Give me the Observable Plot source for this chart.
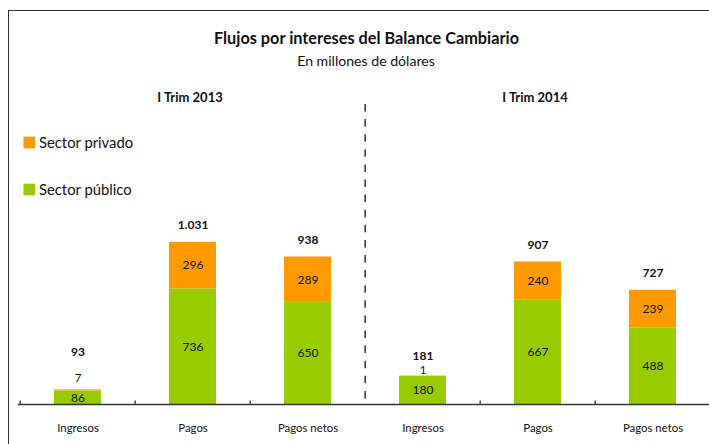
<!DOCTYPE html>
<html>
<head>
<meta charset="utf-8">
<script src="https://cdn.jsdelivr.net/npm/d3@7"></script>
<script src="https://cdn.jsdelivr.net/npm/@observablehq/plot@0.6"></script>
<style>
  html, body { margin: 0; padding: 0; background: #fff; }
  #wrap { position: relative; width: 709px; height: 444px; overflow: hidden; }
  #border { position: absolute; left: 8px; top: 10px; width: 710px; height: 440px;
    border-left: 1.6px solid #333; border-top: 1.6px solid #333; box-sizing: border-box; pointer-events: none; }
  svg { display: block; }
</style>
</head>
<body>
<div id="wrap"><div id="border"></div></div>
<script>
const title = "Flujos por intereses del Balance Cambiario";
const subtitle = "En millones de dólares";
const periods = ["I Trim 2013", "I Trim 2014"];
const concepts = ["Ingresos", "Pagos", "Pagos netos"];
const sectors = ["Sector público", "Sector privado"];
const publico = [86, 736, 650, 180, 667, 488];
const privado = [7, 296, 289, 1, 240, 239];
const totals = [93, 1031, 938, 181, 907, 727];
const colors = ["#99CC00", "#FF9900"];

const keys = periods.flatMap(p => concepts.map(c => p + "|" + c));
const rows = keys.flatMap((k, i) => [
  {key: k, sector: sectors[0], value: publico[i]},
  {key: k, sector: sectors[1], value: privado[i]}
]);
const totalRows = keys.map((k, i) => ({key: k, total: totals[i], priv: privado[i]}));

const fmt = d3.formatLocale({decimal: ",", thousands: ".", grouping: [3], currency: ["$", ""]}).format(",d");

const step = 115.7;
const half = step / 2;
const ink = "#111";

// label offsets (pixels) for bars whose private slice is too thin to hold its label
const smallOffsets = {[keys[0]]: {priv: -11.5, total: -37.5}, [keys[3]]: {priv: -6, total: -19.5}};
const isSmall = d => d.priv < 30;

const marks = [
  Plot.barY(rows, {x: "key", y: "value", fill: "sector"}),
  Plot.ruleY([0], {insetLeft: 18, stroke: "#333", strokeWidth: 1.4}),
  Plot.ruleX(keys.filter((k, i) => i !== 3), {x: d => d, dx: -half, insetTop: 400.5, stroke: "#333", strokeWidth: 1.3}),
  Plot.ruleX([keys[3]], {x: d => d, dx: -half, insetTop: 104, stroke: ink, strokeWidth: 1.3, strokeDasharray: "7.5,7.6"}),
  Plot.axisX({anchor: "bottom", tickSize: 0, tickPadding: 19.5, label: null, tickFormat: d => d.split("|")[1], fontSize: 11.4, fill: ink}),
  Plot.text(rows, Plot.stackY({x: "key", y: "value", z: "sector", text: d => fmt(d.value), filter: d => d.value >= 30, fontSize: 12, fill: ink})),
  Plot.text(totalRows.filter(d => !isSmall(d)), {x: "key", y: "total", text: d => fmt(d.total), dy: -17, fontSize: 12, fontWeight: "bold", fill: ink}),
  ...totalRows.filter(isSmall).flatMap(d => [
    Plot.text([d], {x: "key", y: "total", text: r => fmt(r.priv), dy: smallOffsets[d.key].priv, fontSize: 11.5, fill: ink}),
    Plot.text([d], {x: "key", y: "total", text: r => fmt(r.total), dy: smallOffsets[d.key].total, fontSize: 12, fontWeight: "bold", fill: ink})
  ]),
  Plot.text(periods, {x: (d, i) => keys[i * 3 + 1], frameAnchor: "top", lineAnchor: "middle", dy: 97, dx: -3, fontSize: 13, fontWeight: "bold", fill: ink}),
  Plot.text([title], {frameAnchor: "top-left", dx: 366, dy: 38, textAnchor: "middle", lineAnchor: "middle", fontSize: 16.3, fontWeight: "bold", fill: ink}),
  Plot.text([subtitle], {frameAnchor: "top-left", dx: 365.5, dy: 60.5, textAnchor: "middle", lineAnchor: "middle", fontSize: 14.1, fill: ink}),
  ...sectors.slice().reverse().flatMap((s, i) => [
    Plot.dot([s], {frameAnchor: "top-left", dx: 28.8, dy: 142 + i * 47, symbol: "square", r: 6.6, fill: d => d}),
    Plot.text([s], {frameAnchor: "top-left", dx: 38.5, dy: 142.3 + i * 47, textAnchor: "start", lineAnchor: "middle", fontSize: 14.8, fill: ink})
  ])
];

const chart = Plot.plot({
  width: 709,
  height: 444,
  marginTop: 0,
  marginLeft: 0,
  marginRight: 0,
  marginBottom: 40,
  style: {fontFamily: "Lato, 'Open Sans', sans-serif", color: ink, background: "transparent", overflow: "visible"},
  x: {domain: keys, range: [18, 18 + 6 * step], paddingInner: 0.5938, paddingOuter: 0.2969, align: 0.5, label: null},
  y: {domain: [0, 1000], range: [404, 404 - 157.1], axis: null},
  color: {domain: sectors, range: colors},
  marks
});
document.getElementById("wrap").prepend(chart);
</script>
</body>
</html>
